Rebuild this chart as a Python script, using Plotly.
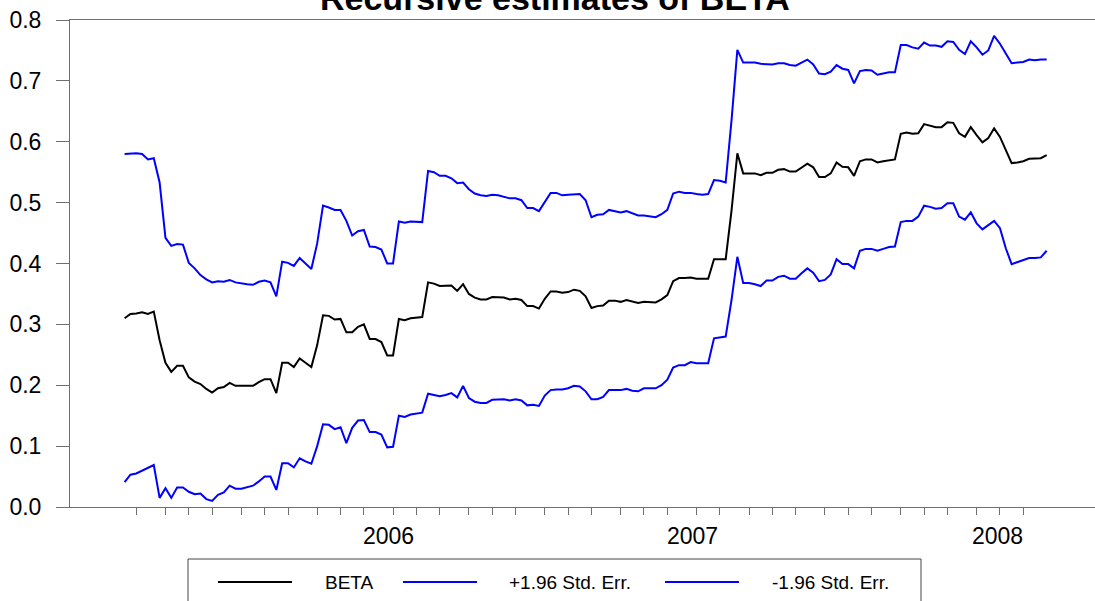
import pandas as pd
import plotly.graph_objects as go

# Weekly observations (Fridays)
dates = pd.date_range("2005-08-19", periods=159, freq="W-FRI")

beta = [
    0.310, 0.317, 0.318, 0.320, 0.317, 0.321, 0.274, 0.237, 0.222, 0.232,
    0.232, 0.213, 0.206, 0.202, 0.194, 0.188, 0.195, 0.197, 0.204, 0.199,
    0.199, 0.199, 0.199, 0.205, 0.210, 0.210, 0.187, 0.237, 0.237, 0.230,
    0.244, 0.237, 0.230, 0.266, 0.315, 0.314, 0.308, 0.309, 0.287, 0.287,
    0.296, 0.300, 0.276, 0.276, 0.271, 0.249, 0.249, 0.309, 0.307, 0.310,
    0.311, 0.312, 0.369, 0.367, 0.363, 0.364, 0.364, 0.355, 0.366, 0.350,
    0.344, 0.341, 0.341, 0.345, 0.345, 0.344, 0.341, 0.342, 0.340, 0.330,
    0.330, 0.326, 0.342, 0.354, 0.354, 0.352, 0.353, 0.357, 0.355, 0.346,
    0.327, 0.330, 0.331, 0.339, 0.339, 0.337, 0.340, 0.337, 0.335, 0.337,
    0.336, 0.336, 0.341, 0.348, 0.371, 0.376, 0.376, 0.377, 0.375, 0.375,
    0.375, 0.407, 0.407, 0.407, 0.487, 0.581, 0.548, 0.548, 0.548, 0.545,
    0.549, 0.549, 0.554, 0.555, 0.551, 0.551, 0.558, 0.564, 0.558, 0.542,
    0.542, 0.548, 0.566, 0.559, 0.558, 0.544, 0.568, 0.571, 0.571, 0.566,
    0.568, 0.570, 0.571, 0.613, 0.615, 0.613, 0.614, 0.629, 0.626, 0.624,
    0.624, 0.632, 0.631, 0.614, 0.608, 0.624, 0.611, 0.599, 0.606, 0.622,
    0.608, 0.586, 0.565, 0.566, 0.568, 0.572, 0.572, 0.573, 0.578,
]

upper = [
    0.580, 0.581, 0.581, 0.580, 0.571, 0.573, 0.533, 0.442, 0.429, 0.432,
    0.431, 0.401, 0.392, 0.381, 0.374, 0.369, 0.371, 0.370, 0.373, 0.369,
    0.367, 0.366, 0.365, 0.370, 0.372, 0.369, 0.346, 0.403, 0.401, 0.396,
    0.409, 0.400, 0.391, 0.433, 0.495, 0.492, 0.488, 0.488, 0.470, 0.446,
    0.453, 0.455, 0.428, 0.427, 0.423, 0.400, 0.400, 0.469, 0.467, 0.469,
    0.469, 0.468, 0.552, 0.550, 0.544, 0.544, 0.540, 0.532, 0.533, 0.522,
    0.515, 0.512, 0.511, 0.513, 0.512, 0.510, 0.507, 0.507, 0.504, 0.491,
    0.491, 0.486, 0.502, 0.516, 0.516, 0.512, 0.513, 0.514, 0.514, 0.504,
    0.476, 0.480, 0.481, 0.488, 0.486, 0.484, 0.486, 0.482, 0.479, 0.479,
    0.477, 0.476, 0.481, 0.488, 0.515, 0.518, 0.516, 0.516, 0.514, 0.513,
    0.514, 0.537, 0.536, 0.533, 0.635, 0.751, 0.730, 0.730, 0.730, 0.728,
    0.727, 0.727, 0.729, 0.729, 0.726, 0.725, 0.730, 0.735, 0.727, 0.712,
    0.711, 0.715, 0.726, 0.720, 0.718, 0.696, 0.716, 0.718, 0.717, 0.710,
    0.712, 0.714, 0.714, 0.759, 0.759, 0.755, 0.753, 0.763, 0.758, 0.758,
    0.756, 0.765, 0.764, 0.751, 0.744, 0.765, 0.755, 0.743, 0.750, 0.774,
    0.761, 0.746, 0.729, 0.730, 0.731, 0.735, 0.734, 0.735, 0.735,
]

lower = [
    0.041, 0.053, 0.055, 0.060, 0.064, 0.069, 0.015, 0.031, 0.015, 0.032,
    0.032, 0.025, 0.021, 0.022, 0.013, 0.010, 0.020, 0.024, 0.035, 0.030,
    0.030, 0.032, 0.035, 0.042, 0.050, 0.050, 0.028, 0.072, 0.072, 0.065,
    0.080, 0.075, 0.071, 0.100, 0.136, 0.135, 0.128, 0.131, 0.105, 0.130,
    0.142, 0.143, 0.123, 0.123, 0.119, 0.098, 0.099, 0.150, 0.148, 0.152,
    0.154, 0.155, 0.186, 0.184, 0.182, 0.184, 0.187, 0.180, 0.199, 0.179,
    0.173, 0.171, 0.171, 0.176, 0.177, 0.177, 0.175, 0.177, 0.175, 0.167,
    0.168, 0.166, 0.183, 0.192, 0.193, 0.193, 0.195, 0.199, 0.198, 0.190,
    0.177, 0.177, 0.181, 0.192, 0.192, 0.192, 0.194, 0.191, 0.190, 0.195,
    0.195, 0.195, 0.200, 0.209, 0.229, 0.233, 0.233, 0.238, 0.236, 0.236,
    0.236, 0.277, 0.279, 0.280, 0.340, 0.411, 0.368, 0.368, 0.366, 0.363,
    0.372, 0.372, 0.378, 0.380, 0.375, 0.375, 0.384, 0.392, 0.385, 0.371,
    0.373, 0.382, 0.407, 0.399, 0.399, 0.392, 0.421, 0.424, 0.424, 0.421,
    0.424, 0.427, 0.428, 0.468, 0.470, 0.470, 0.477, 0.495, 0.493, 0.490,
    0.491, 0.499, 0.499, 0.477, 0.472, 0.484, 0.466, 0.456, 0.463, 0.470,
    0.458, 0.425, 0.399, 0.402, 0.405, 0.409, 0.409, 0.410, 0.421,
]

series_names = ["BETA", "+1.96 Std. Err.", "-1.96 Std. Err."]
series_colors = ["#000000", "#0000ff", "#0000ff"]
year_labels = ["2006", "2007", "2008"]
y_ticks = [0.0, 0.1, 0.2, 0.3, 0.4, 0.5, 0.6, 0.7, 0.8]
title_text = "Recursive estimates of BETA"

# Canvas and plot-area geometry (pixels)
W, H = 1095, 601
L, R, T, B = 70, 0, 20, 94
AXIS = "#6e6e6e"
FONT = "Liberation Sans, Arial, Helvetica, sans-serif"


def fx(xpix):
    """Pixel column -> paper x."""
    return (xpix - L) / (W - L - R)


def fy(ypix):
    """Pixel row -> paper y."""
    return (H - B - ypix) / (H - T - B)


# First observation of every month gets a tick; Januaries get the long one
month_ticks = [d for d in dates if d.day <= 7]
year_ticks = [d for d in month_ticks if d.month == 1]

fig = go.Figure()
for name, vals, color in zip(series_names, [beta, upper, lower], series_colors):
    fig.add_trace(go.Scatter(
        x=dates, y=vals, mode="lines", name=name,
        line=dict(color=color, width=2), showlegend=False,
    ))

fig.update_layout(
    width=W, height=H,
    margin=dict(l=L, r=R, t=T, b=B, pad=0),
    paper_bgcolor="white", plot_bgcolor="white",
    font=dict(family=FONT, color="black"),
    showlegend=False,
)

fig.update_xaxes(
    range=["2005-06-14 12:00", "2008-10-26"],
    showline=True, linecolor=AXIS, linewidth=1, mirror=True,
    showgrid=False, zeroline=False,
    tickmode="array", tickvals=year_ticks, ticktext=["" for _ in year_ticks],
    ticks="outside", ticklen=14, tickwidth=1, tickcolor=AXIS,
    minor=dict(tickmode="array", tickvals=month_ticks, ticks="outside",
               ticklen=7, tickwidth=1, tickcolor=AXIS, showgrid=False),
)

fig.update_yaxes(
    range=[0, 0.8],
    showline=True, linecolor=AXIS, linewidth=1,
    showgrid=False, zeroline=False,
    tickmode="array", tickvals=y_ticks, ticktext=[f"{v:.1f}" for v in y_ticks],
    ticks="outside", ticklen=13, tickwidth=1, tickcolor=AXIS,
    tickfont=dict(size=23, family=FONT, color="black"),
    ticklabelstandoff=10,
)

# Year labels centred inside each calendar year
for yr in year_labels:
    fig.add_annotation(
        x=f"{yr}-07-01", xref="x", y=fy(536), yref="paper",
        text=yr, showarrow=False, xanchor="center", yanchor="middle",
        font=dict(size=23, family=FONT, color="black"),
    )

# Title
fig.add_annotation(
    x=fx(555), xref="paper", y=fy(-2), yref="paper",
    text=f"<b>{title_text}</b>", showarrow=False,
    xanchor="center", yanchor="middle",
    font=dict(size=34, family=FONT, color="black"),
)

# Legend box below the axis
fig.add_shape(type="rect", xref="paper", yref="paper",
              x0=fx(188), x1=fx(921), y0=fy(559), y1=fy(660),
              line=dict(color="#444444", width=1), fillcolor="rgba(0,0,0,0)")
legend_slots = [(218, 292, 323), (403, 477, 507), (665, 739, 770)]
for (x0, x1, xt), name, color in zip(legend_slots, series_names, series_colors):
    fig.add_shape(type="line", xref="paper", yref="paper",
                  x0=fx(x0), x1=fx(x1), y0=fy(582), y1=fy(582),
                  line=dict(color=color, width=2))
    fig.add_annotation(
        x=fx(xt), xref="paper", y=fy(582), yref="paper",
        text=name, showarrow=False, xanchor="left", yanchor="middle",
        font=dict(size=19, family=FONT, color="black"),
    )

fig.write_html("out.html")
